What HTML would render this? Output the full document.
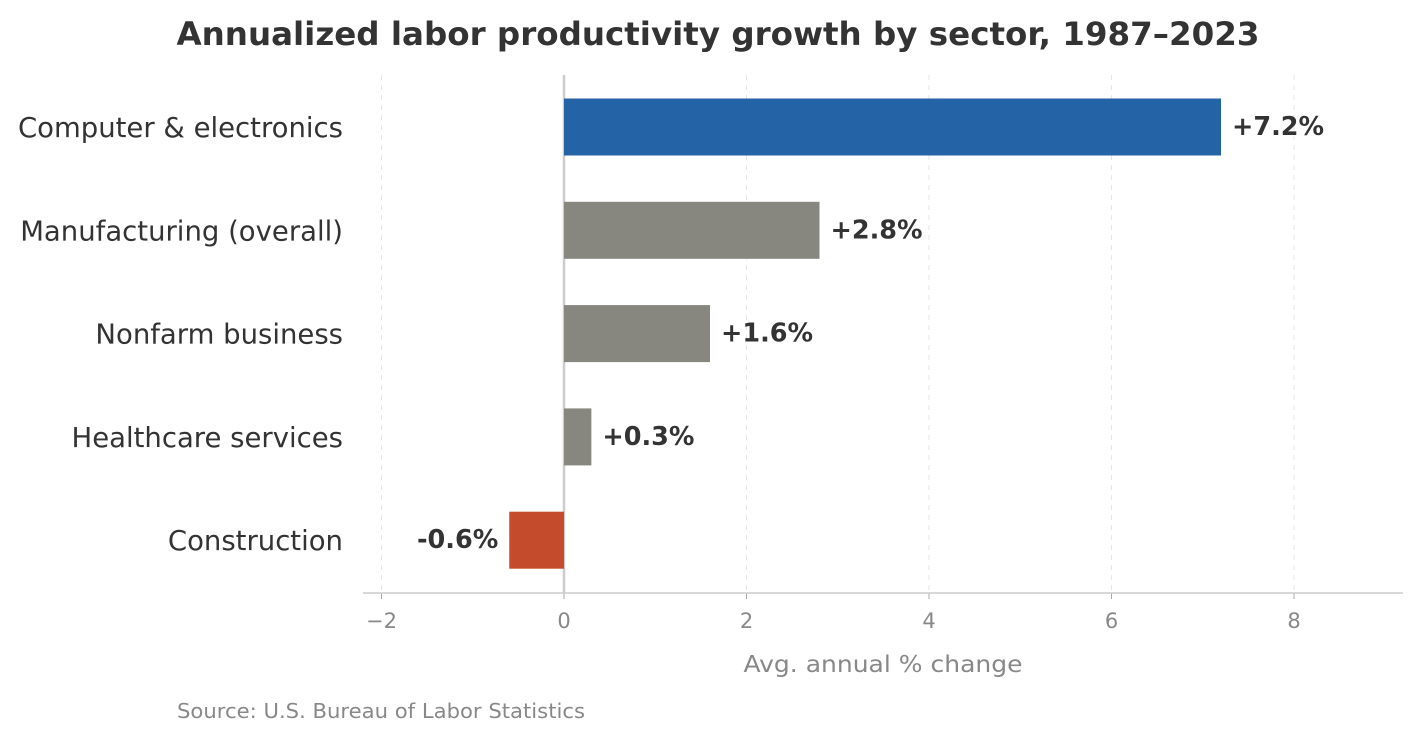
<!DOCTYPE html>
<html><head><meta charset="utf-8"><style>
body{margin:0;background:#fff;}
svg{display:block;font-family:"DejaVu Sans","Liberation Sans",sans-serif;}
</style></head><body>
<svg id="chart" width="1421" height="739" viewBox="0 0 1421 739">
<text x="718" y="45" text-anchor="middle" font-size="32" font-weight="bold" fill="#333" textLength="1083" lengthAdjust="spacingAndGlyphs">Annualized labor productivity growth by sector, 1987–2023</text>
<g id="grid"></g><g id="bars"></g><g id="labels"></g><g id="ticks"></g>
<line x1="363" x2="1403" y1="593" y2="593" stroke="#ccc" stroke-width="1.5"/>
<text x="883" y="672" text-anchor="middle" font-size="23" fill="#888" textLength="279" lengthAdjust="spacingAndGlyphs">Avg. annual % change</text>
<text x="177" y="718" font-size="20" fill="#888" textLength="408" lengthAdjust="spacingAndGlyphs">Source: U.S. Bureau of Labor Statistics</text>
</svg>
<script>
const categories=["Computer & electronics","Manufacturing (overall)","Nonfarm business","Healthcare services","Construction"];
const values=[7.2,2.8,1.6,0.3,-0.6];
const valueLabels=["+7.2%","+2.8%","+1.6%","+0.3%","-0.6%"];
const tickValues=[-2,0,2,4,6,8];
const tickLabels=["\u22122","0","2","4","6","8"];
const NS="http://www.w3.org/2000/svg";
const x=v=>564+v*91.25;
const y=i=>127+i*103.3;
function mk(tag,attrs,parent,txt){const e=document.createElementNS(NS,tag);for(const k in attrs)e.setAttribute(k,attrs[k]);if(txt!==undefined)e.textContent=txt;document.getElementById(parent).appendChild(e);return e;}
tickValues.forEach((t,i)=>{
 const g=mk('line',{x1:x(t),x2:x(t),y1:75,y2:593,stroke:t===0?'#ccc':'#e6e6e6','stroke-width':t===0?2.5:1,'stroke-dasharray':t===0?'':'5,5'},'grid');
 
 
 const tk=mk('line',{x1:x(t),x2:x(t),y1:593,y2:599,stroke:'#aaa'},'ticks');
 
 
 const tl=mk('text',{x:x(t),y:628,'text-anchor':'middle','font-size':21,fill:'#888'},'ticks',tickLabels[i]);
 
 
});
values.forEach((v,i)=>{
 const col=i===0?'#2463a6':(v<0?'#c44b2b':'#878780');
 const r=mk('rect',{x:Math.min(x(0),x(v)),y:y(i)-28.5,width:Math.abs(x(v)-x(0)),height:57,fill:col},'bars');
 
 
 const c=mk('text',{x:343,y:y(i)+10,'text-anchor':'end','font-size':27.5,fill:'#333'},'labels',categories[i]);
 
 
 const vl=mk('text',{x:v>=0?x(v)+11:x(v)-11,y:y(i)+8,'text-anchor':v>=0?'start':'end','font-size':25.5,'font-weight':'bold',fill:'#333'},'labels',valueLabels[i]);
 
 
});
</script>
</body></html>
